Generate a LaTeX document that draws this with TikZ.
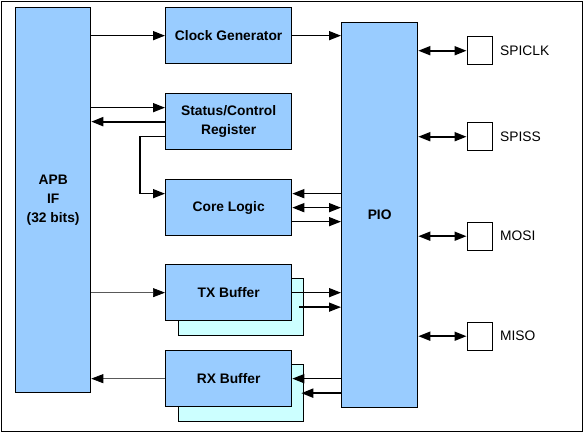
\documentclass[tikz,border=0pt]{standalone}
\usepackage{fontspec}
\setmainfont{Liberation Sans}
\usetikzlibrary{arrows.meta,positioning}

\definecolor{apbblue}{RGB}{153,204,255}
\definecolor{bufcyan}{RGB}{204,255,255}

\tikzset{
    blk/.style={draw, line width=1.3pt, fill=apbblue, align=center, inner sep=0pt,
        anchor=north west, font=\fontsize{13.8}{19}\selectfont\bfseries},
    shadowblk/.style={draw, line width=1.3pt, fill=bufcyan, inner sep=0pt, anchor=north west},
    pinbox/.style={draw, line width=1.4pt, fill=white, inner sep=0pt, anchor=north west,
        minimum width=25pt, minimum height=28pt},
    pinlabel/.style={inner sep=0pt, font=\fontsize{13.8}{16}\selectfont},
    thinline/.style={line width=0.7pt, draw=black!65, >={Triangle[length=12pt,width=9pt,color=black]}},
    thickline/.style={line width=2pt}
}

\begin{document}
\begin{tikzpicture}[x=1pt, y=-1pt, >={Triangle[length=12pt,width=9pt]}, line width=1.5pt]
    \useasboundingbox (0,0) rectangle (586,434);
    % the outer frame
    \draw[line width=0.8pt] (1,1) rectangle (582,431);

    % the APB interface on the left
    \node[blk, minimum width=75pt, minimum height=385pt] (apb) at (15,7) {APB\\IF\\(32 bits)};

    % the blocks in the middle column
    \node[blk, minimum width=126pt, minimum height=56pt] (clk) at (165,7) {Clock Generator};
    \node[blk, minimum width=126pt, minimum height=56pt] (stat) at (165,93) {Status/Control\\Register};
    \node[blk, minimum width=126pt, minimum height=56pt] (core) at (165,179) {Core Logic};
    % the buffers with their shadow copies behind them
    \node[shadowblk, minimum width=125pt, minimum height=57pt] (txs) at (178,278) {};
    \node[blk, minimum width=126pt, minimum height=56pt] (tx) at (165,264) {TX Buffer};
    \node[shadowblk, minimum width=125pt, minimum height=57pt] (rxs) at (178,364) {};
    \node[blk, minimum width=126pt, minimum height=56pt] (rx) at (165,350) {RX Buffer};

    % the PIO block
    \node[blk, minimum width=76pt, minimum height=385pt] (pio) at (341,22) {PIO};

    % the pins on the right
    \node[pinbox] (sclk) at (466.5,36) {};
    \node[pinbox] (ss) at (466.5,122) {};
    \node[pinbox] (mosi) at (466.5,221.5) {};
    \node[pinbox] (miso) at (466.5,321.5) {};
    \node[pinlabel, right=6.5pt of sclk] (sclklbl) {SPICLK};
    \node[pinlabel, right=6.5pt of ss] (sslbl) {SPISS};
    \node[pinlabel, right=6.5pt of mosi] (mosilbl) {MOSI};
    \node[pinlabel, right=6.5pt of miso] (misolbl) {MISO};

    % APB to clock generator and on to PIO
    \draw[->] (apb.east |- clk.west) -- (clk.west);
    \draw[->] (clk.east) -- (pio.west |- clk.east);

    % APB and status/control register
    \draw[->] ([yshift=14pt]apb.east |- stat.west) -- ([yshift=14pt]stat.west);
    \draw[->, thickline] (stat.west) -- (apb.east |- stat.west);
    % status/control register down to core logic
    \draw[->] ([yshift=-15pt]stat.west) -- ++(-25pt,0) |- ([yshift=14pt]core.west);

    % core logic and PIO
    \draw[->] ([yshift=14pt]pio.west |- core.east) -- ([yshift=14pt]core.east);
    \draw[<->] (core.east) -- (pio.west |- core.east);
    \draw[->] ([yshift=-14pt]core.east) -- ([yshift=-14pt]pio.west |- core.east);

    % TX buffer
    \draw[->, thinline] (apb.east |- tx.west) -- (tx.west);
    \draw[->] (tx.east) -- (pio.west |- tx.east);
    \draw[->] ([xshift=-5pt]txs.east) -- (pio.west |- txs.east);

    % RX buffer
    \draw[->] (pio.west |- rx.east) -- (rx.east);
    \draw[->, thickline] (pio.west |- rxs.east) -- ([xshift=-3pt]rxs.east);
    \draw[->, thinline] (rx.west) -- (apb.east |- rx.west);

    % PIO to the pins
    \foreach \p in {sclk, ss, mosi, miso}
    \draw[<->, line width=1.7pt] (pio.east |- \p.west) -- (\p.west);
\end{tikzpicture}
\end{document}
